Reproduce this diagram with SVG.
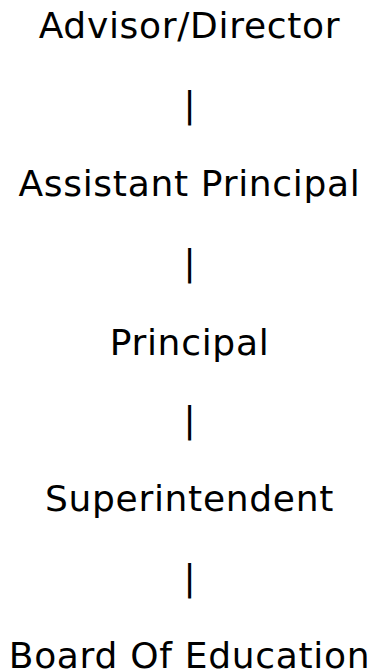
<svg xmlns="http://www.w3.org/2000/svg" width="374" height="672" viewBox="0 0 374 672">
<style>
text{font-family:"DejaVu Sans",Verdana,sans-serif;font-size:36px;letter-spacing:0.7px;fill:#000;text-anchor:middle}
</style>
<rect width="374" height="672" fill="#fff"/>
<g id="n1"><text x="189.5" y="38">Advisor/Director</text></g>
<g id="connectors">
<text x="190" y="116.5">|</text>
<text x="190" y="275">|</text>
<text x="190" y="432">|</text>
<text x="190" y="590">|</text>
</g>
<g id="n2"><text x="189.5" y="196">Assistant Principal</text></g>
<g id="n3"><text x="189.5" y="355">Principal</text></g>
<g id="n4"><text x="189.5" y="511">Superintendent</text></g>
<g id="n5"><text x="189.5" y="668">Board Of Education</text></g>
</svg>
